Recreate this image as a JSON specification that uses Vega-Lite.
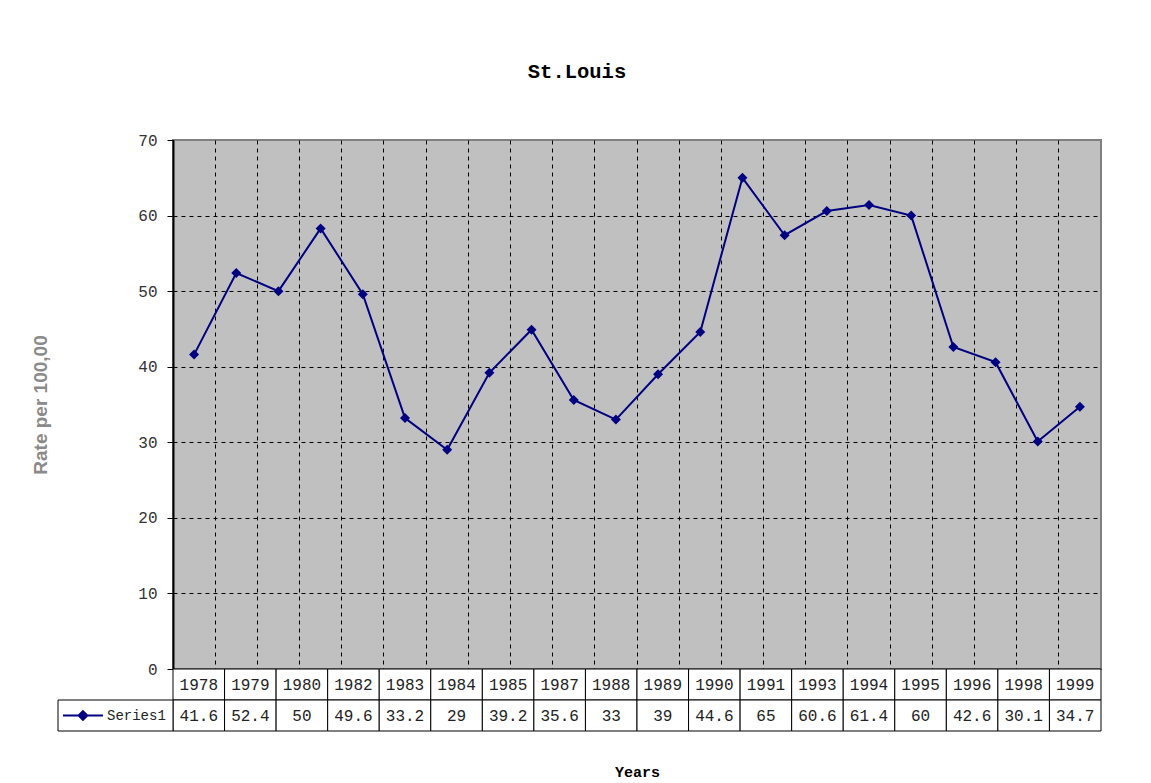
{
  "$schema": "https://vega.github.io/schema/vega-lite/v6.json",
  "width": 928,
  "height": 529,
  "autosize": {"type": "none"},
  "padding": {"left": 173, "top": 140, "right": 50, "bottom": 114},
  "background": "white",
  "title": {
    "text": "St.Louis",
    "font": "Liberation Mono",
    "fontSize": 20.5,
    "fontWeight": "bold",
    "color": "black",
    "anchor": "middle",
    "frame": "group",
    "offset": 50,
    "dx": -60
  },
  "config": {"view": {"fill": "#C0C0C0", "stroke": "#808080", "strokeWidth": 2}},
  "datasets": {
    "rates": [
      {"year": "1978", "rate": 41.6},
      {"year": "1979", "rate": 52.4},
      {"year": "1980", "rate": 50},
      {"year": "1981", "rate": 58.3},
      {"year": "1982", "rate": 49.6},
      {"year": "1983", "rate": 33.2},
      {"year": "1984", "rate": 29},
      {"year": "1985", "rate": 39.2},
      {"year": "1986", "rate": 44.9},
      {"year": "1987", "rate": 35.6},
      {"year": "1988", "rate": 33},
      {"year": "1989", "rate": 39},
      {"year": "1990", "rate": 44.6},
      {"year": "1991", "rate": 65},
      {"year": "1992", "rate": 57.4},
      {"year": "1993", "rate": 60.6},
      {"year": "1994", "rate": 61.4},
      {"year": "1995", "rate": 60},
      {"year": "1996", "rate": 42.6},
      {"year": "1997", "rate": 40.6},
      {"year": "1998", "rate": 30.1},
      {"year": "1999", "rate": 34.7}
    ]
  },
  "layer": [
    {
      "data": {"name": "rates"},
      "encoding": {
        "x": {
          "field": "year",
          "type": "ordinal",
          "bandPosition": 0.5,
          "scale": {"type": "band", "paddingInner": 0, "paddingOuter": 0},
          "axis": {
            "bandPosition": 0,
            "grid": true,
            "gridColor": "black",
            "gridDash": [4, 4],
            "gridWidth": 1,
            "gridOpacity": 1,
            "labels": false,
            "ticks": false,
            "domain": false,
            "title": "Years",
            "titleFont": "Liberation Mono",
            "titleFontSize": 15,
            "titleFontWeight": "bold",
            "titleColor": "black",
            "titlePadding": 95
          }
        },
        "y": {
          "field": "rate",
          "type": "quantitative",
          "scale": {"domain": [0, 70], "nice": false},
          "axis": {
            "values": [0, 10, 20, 30, 40, 50, 60, 70],
            "grid": true,
            "gridColor": "black",
            "gridDash": [4, 4],
            "gridWidth": 1,
            "gridOpacity": {"condition": {"test": "datum.value === 70", "value": 0}, "value": 1},
            "tickSize": 6,
            "tickColor": "black",
            "tickWidth": 1,
            "domainColor": "black",
            "domainWidth": 2,
            "labelFont": "Liberation Mono",
            "labelFontSize": 16,
            "labelColor": "#333333",
            "labelPadding": 10,
            "title": "Rate per 100,00",
            "titleFont": "Liberation Sans",
            "titleFontWeight": "bold",
            "titleFontSize": 19,
            "titleColor": "#8a8a8a",
            "titlePadding": 87
          }
        }
      },
      "layer": [
        {"mark": {"type": "line", "color": "#000080", "strokeWidth": 2}},
        {"mark": {"type": "point", "shape": "diamond", "filled": true, "color": "#000080", "size": 100, "opacity": 1}}
      ]
    },
    {
      "data": {"name": "rates"},
      "transform": [
        {"filter": {"not": {"field": "year", "oneOf": ["1981", "1986", "1992", "1997"]}}},
        {"fold": ["year", "rate"], "as": ["row", "val"]}
      ],
      "layer": [
        {
          "mark": {"type": "rect", "fill": "white", "stroke": "black", "strokeWidth": 1},
          "encoding": {
            "x": {"field": "year", "type": "ordinal", "scale": {"type": "band", "paddingInner": 0, "paddingOuter": 0}, "axis": null},
            "y": {"field": "row", "type": "nominal", "scale": {"type": "band", "domain": ["year", "rate"], "range": [529, 591], "paddingInner": 0, "paddingOuter": 0}, "axis": null}
          }
        },
        {
          "mark": {"type": "text", "font": "Liberation Mono", "fontSize": 16, "color": "#222222", "baseline": "middle", "align": "center"},
          "encoding": {
            "x": {"field": "year", "type": "ordinal", "bandPosition": 0.5, "scale": {"type": "band", "paddingInner": 0, "paddingOuter": 0}, "axis": null},
            "y": {"field": "row", "type": "nominal", "bandPosition": 0.5, "scale": {"type": "band", "domain": ["year", "rate"], "range": [529, 591], "paddingInner": 0, "paddingOuter": 0}, "axis": null},
            "text": {"field": "val", "type": "nominal"}
          }
        },
        {
          "data": {"values": [{"series": "Series1"}]},
          "layer": [
            {
              "mark": {"type": "rect", "fill": "white", "stroke": "black", "strokeWidth": 1},
              "encoding": {
                "x": {"field": "series", "type": "nominal", "scale": {"type": "band", "range": [-115, 0], "paddingInner": 0, "paddingOuter": 0}, "axis": null},
                "y": {"datum": "rate", "type": "nominal", "scale": {"type": "band", "domain": ["year", "rate"], "range": [529, 591], "paddingInner": 0, "paddingOuter": 0}, "axis": null}
              }
            },
            {
              "mark": {"type": "point", "shape": "M-1,0L1,0M0,-0.22L0.22,0L0,0.22L-0.22,0Z", "size": 1600, "filled": true, "fill": "#000080", "stroke": "#000080", "strokeWidth": 2, "opacity": 1},
              "encoding": {
                "x": {"field": "series", "type": "nominal", "bandPosition": 0.217, "scale": {"type": "band", "range": [-115, 0], "paddingInner": 0, "paddingOuter": 0}, "axis": null},
                "y": {"datum": "rate", "type": "nominal", "bandPosition": 0.5, "scale": {"type": "band", "domain": ["year", "rate"], "range": [529, 591], "paddingInner": 0, "paddingOuter": 0}, "axis": null}
              }
            },
            {
              "mark": {"type": "text", "font": "Liberation Mono", "fontSize": 14, "color": "#222222", "baseline": "middle", "align": "left"},
              "encoding": {
                "x": {"field": "series", "type": "nominal", "bandPosition": 0.426, "scale": {"type": "band", "range": [-115, 0], "paddingInner": 0, "paddingOuter": 0}, "axis": null},
                "y": {"datum": "rate", "type": "nominal", "bandPosition": 0.5, "scale": {"type": "band", "domain": ["year", "rate"], "range": [529, 591], "paddingInner": 0, "paddingOuter": 0}, "axis": null},
                "text": {"field": "series", "type": "nominal"}
              }
            }
          ]
        }
      ],
      "resolve": {"scale": {"x": "independent"}}
    }
  ],
  "resolve": {"scale": {"x": "independent", "y": "independent"}}
}
